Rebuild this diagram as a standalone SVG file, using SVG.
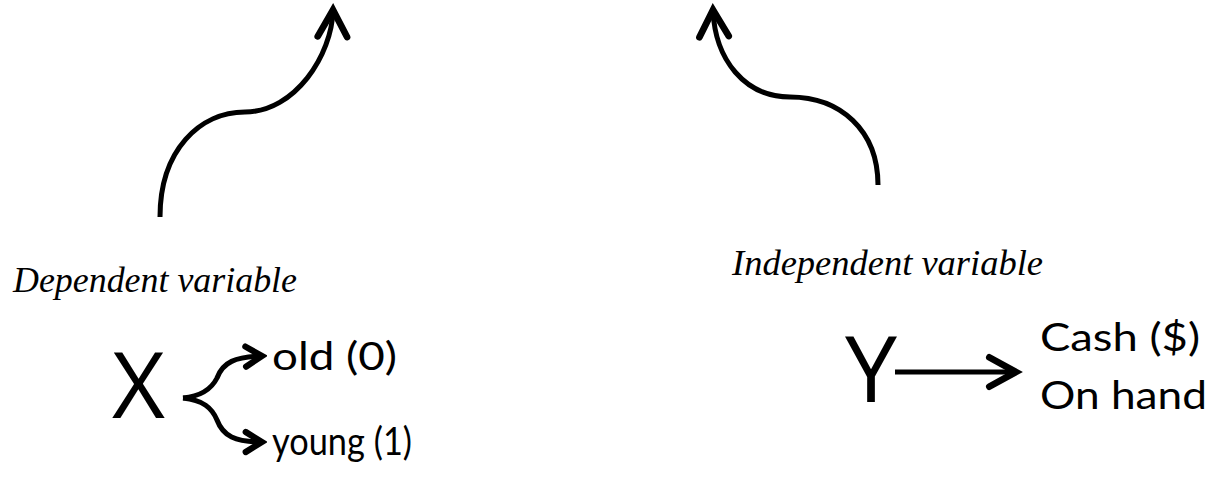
<svg xmlns="http://www.w3.org/2000/svg" width="1209" height="478" viewBox="0 0 1209 478">
<style>
.c{fill:none;stroke:#000;stroke-width:5;stroke-linecap:butt}
.hand{font-family:"Liberation Serif",serif;font-style:italic;font-size:35px;fill:#000}
.lbl{font-family:Lato,"Open Sans",sans-serif;font-size:39px;fill:#000}
.big{font-family:"Open Sans","Liberation Sans",sans-serif;font-size:92px;fill:#000}
</style>
<defs>
<marker id="ah" markerUnits="userSpaceOnUse" markerWidth="40" markerHeight="40" viewBox="-25 -15 30 30" refX="0" refY="0" orient="auto">
<path d="M-20,-11 L0,0 L-20,11" fill="none" stroke="#000" stroke-width="5" stroke-linecap="round"/>
</marker>
<marker id="ahs" markerUnits="userSpaceOnUse" markerWidth="30" markerHeight="30" viewBox="-20 -12 24 24" refX="0" refY="0" orient="auto">
<path d="M-13,-8 L0,0 L-13,8" fill="none" stroke="#000" stroke-width="5" stroke-linecap="round"/>
</marker>
</defs>
<g id="connectors">
<path class="c" d="M160,217 C160,150 200,112 245,112 C295,112 332,55 333,10" marker-end="url(#ah)"/>
<path class="c" d="M878,185 C878,130 840,97 790,97 C745,97 715,60 713,10" marker-end="url(#ah)"/>
<path class="c" d="M183,398 C203,396 212,388 217,378 C223,362 235,357 262,356" marker-end="url(#ahs)"/>
<path class="c" d="M183,398 C203,400 212,408 217,420 C223,436 235,442 262,442" marker-end="url(#ahs)"/>
<path class="c" d="M895,372 L1016,372" marker-end="url(#ah)"/>
</g>
<g id="dependent-label"><text class="hand" x="13" y="292" textLength="284" lengthAdjust="spacingAndGlyphs">Dependent variable</text></g>
<g id="independent-label"><text class="hand" x="732" y="275" textLength="311" lengthAdjust="spacingAndGlyphs">Independent variable</text></g>
<g id="x-node"><text class="big" x="112" y="418" textLength="53" lengthAdjust="spacingAndGlyphs">X</text></g>
<g id="old-node"><text class="lbl" x="272" y="370" textLength="125" lengthAdjust="spacingAndGlyphs">old (0)</text></g>
<g id="young-node"><text class="lbl" x="272" y="455" textLength="140" lengthAdjust="spacingAndGlyphs">young (1)</text></g>
<g id="y-node"><text class="big" x="845" y="402" textLength="52" lengthAdjust="spacingAndGlyphs">Y</text></g>
<g id="cash-node"><text class="lbl" x="1040" y="351" textLength="160" lengthAdjust="spacingAndGlyphs">Cash ($)</text><text class="lbl" x="1040" y="409" textLength="167" lengthAdjust="spacingAndGlyphs">On hand</text></g>
</svg>
